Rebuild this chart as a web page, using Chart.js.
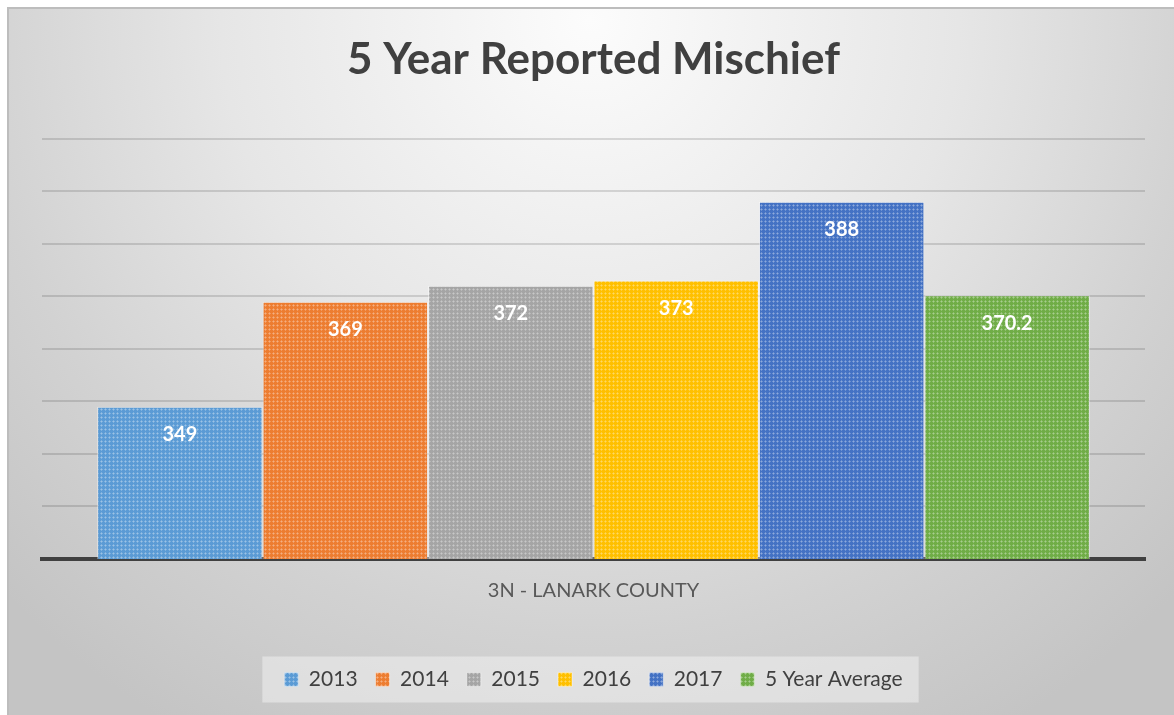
<!DOCTYPE html>
<html>
<head>
<meta charset="utf-8">
<script src="https://cdn.jsdelivr.net/npm/chart.js@4.4.1/dist/chart.umd.min.js"></script>
<style>
  html, body { margin: 0; padding: 0; background: #ffffff; }
  #wrap { width: 1174px; height: 715px; position: relative; }
</style>
</head>
<body>
<div id="wrap"><canvas id="c" width="1174" height="715"></canvas></div>
<script>
// ---- data ----
const categories = ['3N - LANARK COUNTY'];
const seriesNames = ['2013', '2014', '2015', '2016', '2017', '5 Year Average'];
const values2013 = [349];
const values2014 = [369];
const values2015 = [372];
const values2016 = [373];
const values2017 = [388];
const valuesAvg = [370.2];
const seriesValues = [values2013, values2014, values2015, values2016, values2017, valuesAvg];
const yMin = 320, yMax = 400, yStep = 10;

// ---- style ----
const baseColors = ['#5b9bd5', '#ed7d31', '#a5a5a5', '#ffc000', '#4472c4', '#70ad47'];
const FONT = 'Lato, "Open Sans", sans-serif';

function makePattern(color) {
  const p = document.createElement('canvas');
  p.width = 4; p.height = 4;
  const g = p.getContext('2d');
  g.fillStyle = color;
  g.fillRect(0, 0, 4, 4);
  g.fillStyle = 'rgba(255,255,255,0.22)';
  g.fillRect(1, 0, 1, 3);
  g.fillRect(0, 1, 3, 1);
  return g.createPattern(p, 'repeat');
}
const ctx0 = document.getElementById('c').getContext('2d');

const datasets = seriesNames.map((name, i) => ({
  label: name,
  data: seriesValues[i],
  backgroundColor: makePattern(baseColors[i]),
  borderColor: 'rgba(255,255,255,0.45)',
  borderWidth: 1,
  borderSkipped: 'bottom',
  categoryPercentage: 0.9,
  barPercentage: 1.0
}));

const bgPlugin = {
  id: 'bg',
  beforeDraw(chart) {
    const c = chart.ctx;
    const W = chart.width, H = chart.height;
    c.save();
    c.fillStyle = '#ffffff';
    c.fillRect(0, 0, W, H);
    const g = c.createRadialGradient(590, 20, 0, 590, 20, 820);
    g.addColorStop(0, '#fcfcfc');
    g.addColorStop(0.45, '#e6e6e6');
    g.addColorStop(0.75, '#d2d2d2');
    g.addColorStop(1, '#c4c4c4');
    c.fillStyle = g;
    c.fillRect(7, 7, W - 7, H - 7);
    c.fillStyle = '#bdbdbd';
    c.fillRect(7, 7, W - 7, 2);
    c.fillRect(7, 7, 2, H - 7);
    // legend background box
    const lg = chart.legend;
    if (lg && lg.legendHitBoxes && lg.legendHitBoxes.length) {
      const hb = lg.legendHitBoxes;
      const l = hb[0].left - 22;
      const r = hb[hb.length - 1].left + hb[hb.length - 1].width + 16;
      const cy = hb[0].top + hb[0].height / 2;
      c.fillStyle = 'rgba(240,240,240,0.55)';
      c.fillRect(l, cy - 23, r - l, 46);
    }
    c.restore();
  }
};

const labelPlugin = {
  id: 'vlabels',
  afterDatasetsDraw(chart) {
    const c = chart.ctx;
    c.save();
    c.fillStyle = '#ffffff';
    c.font = 'bold 20px ' + FONT;
    c.textAlign = 'center';
    c.textBaseline = 'middle';
    chart.data.datasets.forEach((ds, i) => {
      const meta = chart.getDatasetMeta(i);
      meta.data.forEach((el, j) => {
        c.fillText(String(ds.data[j]), el.x, el.y + 28);
      });
    });
    c.restore();
  }
};

new Chart(ctx0, {
  type: 'bar',
  data: { labels: categories, datasets },
  plugins: [bgPlugin, labelPlugin],
  options: {
    responsive: false,
    animation: false,
    layout: { padding: { left: 42, right: 29, top: 0, bottom: 15 } },
    plugins: {
      title: {
        display: true,
        text: '5 Year Reported Mischief',
        color: '#404040',
        font: { family: FONT, size: 44, weight: 'bold' },
        padding: { top: 33, bottom: 53 }
      },
      legend: {
        position: 'bottom',
        labels: {
          color: '#404040',
          font: { family: FONT, size: 21 },
          boxWidth: 14,
          boxHeight: 14,
          padding: 18
        }
      },
      tooltip: { enabled: false }
    },
    scales: {
      x: {
        grid: { display: false, drawTicks: false },
        border: { display: true, color: '#404040', width: 4 },
        ticks: { color: '#595959', font: { family: FONT, size: 20 }, padding: 20 },
        afterFit(scale) { scale.height += 28; }
      },
      y: {
        min: yMin, max: yMax,
        ticks: { display: false, stepSize: yStep },
        grid: { color: 'rgba(0,0,0,0.13)', lineWidth: 2, drawTicks: false },
        border: { display: false }
      }
    }
  }
});
</script>
</body>
</html>
